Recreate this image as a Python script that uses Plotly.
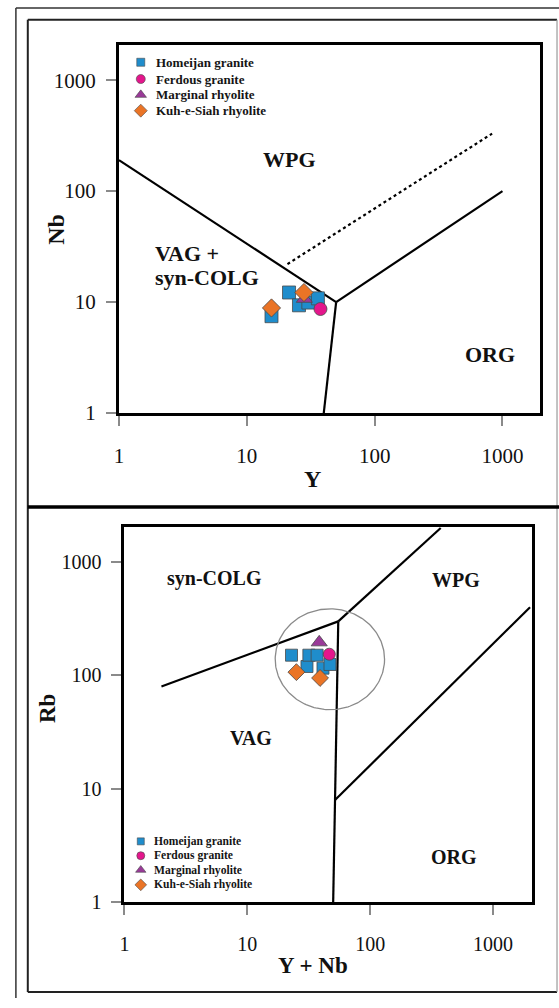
import numpy as np
import plotly.graph_objects as go

# ---------------- data ----------------
# Nb vs Y diagram
homeijan_y = [21.4, 25.6, 30.3, 36.0, 15.6]
homeijan_nb = [12.2, 9.35, 9.9, 10.8, 7.46]
ferdous_y = [37.7]
ferdous_nb = [8.66]
marginal_y = [28.2]
marginal_nb = [10.7]
kuh_y = [28.0, 15.6]
kuh_nb = [12.2, 8.85]

# Rb vs (Y + Nb) diagram
homeijan_ynb = [22.9, 30.6, 31.7, 37.0, 41.3, 47.1]
homeijan_rb = [151, 120, 151, 151, 116, 125]
ferdous_ynb = [46.5]
ferdous_rb = [154]
marginal_ynb = [38.5]
marginal_rb = [196]
kuh_ynb = [25.1, 39.1]
kuh_rb = [107, 95]

# field boundaries, Nb-Y
b1_vag_wpg_x, b1_vag_wpg_y = [1, 50], [190, 10]
b1_vag_org_x, b1_vag_org_y = [50, 40], [10, 1]
b1_wpg_org_x, b1_wpg_org_y = [50, 1000], [10, 100]
b1_dotted_x, b1_dotted_y = [20.8, 830], [22, 330]

# field boundaries, Rb-(Y+Nb)
b2_syn_vag_x, b2_syn_vag_y = [2, 55], [80, 300]
b2_syn_wpg_x, b2_syn_wpg_y = [55, 375], [300, 2000]
b2_vag_org_x, b2_vag_org_y = [55, 50], [300, 1]
b2_wpg_org_x, b2_wpg_org_y = [52, 2000], [8, 400]

# highlight ellipse (log-space centre and radius, in decades)
ring_center = (47.0, 139.0)
ring_radius = 0.445

series = ["Homeijan granite", "Ferdous granite", "Marginal rhyolite", "Kuh-e-Siah rhyolite"]
colors = ["#1f8dcc", "#e4168c", "#9a3a98", "#ea7426"]
symbols = ["square", "circle", "triangle-up", "diamond"]
tick_vals = [1, 10, 100, 1000]
tick_text = ["1", "10", "100", "1000"]

# ---------------- layout helpers ----------------
W, H = 559, 1008
SERIF = "Liberation Serif, Times New Roman, serif"


def fx(x):
    return x / W


def fy(y):
    return 1 - y / H


fig = go.Figure()

marker_line = dict(color="#4a4a4a", width=0.8)
top_sets = [(homeijan_y, homeijan_nb), (ferdous_y, ferdous_nb),
            (marginal_y, marginal_nb), (kuh_y, kuh_nb)]
bot_sets = [(homeijan_ynb, homeijan_rb), (ferdous_ynb, ferdous_rb),
            (marginal_ynb, marginal_rb), (kuh_ynb, kuh_rb)]
top_sizes = [13, 13, 14, 14]
bot_sizes = [12, 12, 14, 13]


def boundary(x, y, xa, ya, dash=None):
    st = dict(color="black", width=2.2)
    if dash:
        st["dash"] = dash
    fig.add_trace(go.Scatter(x=x, y=y, mode="lines", line=st, xaxis=xa, yaxis=ya,
                             showlegend=False, hoverinfo="skip"))


# top diagram boundaries
boundary(b1_vag_wpg_x, b1_vag_wpg_y, "x", "y")
boundary(b1_vag_org_x, b1_vag_org_y, "x", "y")
boundary(b1_wpg_org_x, b1_wpg_org_y, "x", "y")
boundary(b1_dotted_x, b1_dotted_y, "x", "y", dash="dot")

# bottom diagram boundaries
boundary(b2_syn_vag_x, b2_syn_vag_y, "x2", "y2")
boundary(b2_syn_wpg_x, b2_syn_wpg_y, "x2", "y2")
boundary(b2_vag_org_x, b2_vag_org_y, "x2", "y2")
boundary(b2_wpg_org_x, b2_wpg_org_y, "x2", "y2")

# highlight ring around the samples
t = np.linspace(0, 2 * np.pi, 200)
ring_x = 10 ** (np.log10(ring_center[0]) + ring_radius * np.cos(t))
ring_y = 10 ** (np.log10(ring_center[1]) + ring_radius * np.sin(t))
fig.add_trace(go.Scatter(x=ring_x, y=ring_y, mode="lines",
                         line=dict(color="#8a8a8a", width=1.3),
                         xaxis="x2", yaxis="y2", showlegend=False, hoverinfo="skip"))

# sample points
for (xs, ys), name, c, s, sz in zip(top_sets, series, colors, symbols, top_sizes):
    fig.add_trace(go.Scatter(x=xs, y=ys, mode="markers", name=name,
                             marker=dict(symbol=s, color=c, size=sz, line=marker_line),
                             xaxis="x", yaxis="y", showlegend=False))
for (xs, ys), name, c, s, sz in zip(bot_sets, series, colors, symbols, bot_sizes):
    fig.add_trace(go.Scatter(x=xs, y=ys, mode="markers", name=name,
                             marker=dict(symbol=s, color=c, size=sz, line=marker_line),
                             xaxis="x2", yaxis="y2", showlegend=False))

# hand-built legends drawn on a full-page pixel overlay axis
legend_blocks = [
    dict(x=137, text_x=150, rows=[63, 80, 96, 112], msize=[8, 9, 10, 10], font=13),
    dict(x=137, text_x=148, rows=[851.5, 866, 880.5, 895.5], msize=[7, 8, 9, 9], font=11.6),
]
annotations = []
for blk in legend_blocks:
    for i, name in enumerate(series):
        fig.add_trace(go.Scatter(x=[blk["x"]], y=[blk["rows"][i]], mode="markers",
                                 marker=dict(symbol=symbols[i], color=colors[i],
                                             size=blk["msize"][i],
                                             line=dict(color="#4a4a4a", width=0.6)),
                                 xaxis="x3", yaxis="y3", showlegend=False, hoverinfo="skip"))
        annotations.append(dict(x=fx(blk["text_x"]), y=fy(blk["rows"][i]), xref="paper", yref="paper",
                                text=f"<b>{name}</b>", showarrow=False, xanchor="left", yanchor="middle",
                                font=dict(family=SERIF, size=blk["font"], color="#151515")))

# field names
field_labels = [
    ("WPG", 287, 161, 22, "center"),
    ("VAG +", 149, 257, 22, "left"),
    ("syn-COLG", 149, 281, 22, "left"),
    ("ORG", 489, 359, 22, "center"),
    ("syn-COLG", 211, 585, 20, "center"),
    ("WPG", 455, 587, 20, "center"),
    ("VAG", 248, 747, 20, "center"),
    ("ORG", 453, 867, 20, "center"),
]
for txt, x, y, sz, anc in field_labels:
    annotations.append(dict(x=fx(x), y=fy(y), xref="paper", yref="paper", text=f"<b>{txt}</b>",
                            showarrow=False, xanchor=anc, yanchor="middle",
                            font=dict(family=SERIF, size=sz, color="#111")))

# axis titles
axis_titles = [
    ("Y", 310, 485, 24, 0),
    ("Nb", 52, 232, 24, -90),
    ("Y + Nb", 311, 977, 23, 0),
    ("Rb", 43, 717, 23, -90),
]
for txt, x, y, sz, ang in axis_titles:
    annotations.append(dict(x=fx(x), y=fy(y), xref="paper", yref="paper", text=f"<b>{txt}</b>",
                            showarrow=False, xanchor="center", yanchor="middle", textangle=ang,
                            font=dict(family=SERIF, size=sz, color="#111")))


def pline(x0, y0, x1, y1, color, width):
    return dict(type="line", xref="paper", yref="paper", x0=fx(x0), x1=fx(x1),
                y0=fy(y0), y1=fy(y1), line=dict(color=color, width=width))


# page frames
shapes = [
    # outer thin border
    pline(11, 8, 11, 1010, "#333", 1.5),
    pline(11, 8, 560, 8, "#333", 1.5),
    # panel border
    pline(23, 20, 23, 1004, "#222", 2),
    pline(23, 20, 557, 20, "#222", 2),
    pline(23, 1004, 557, 1004, "#222", 2),
    pline(557, 20, 557, 1004, "#9a9a9a", 1.2),
    # separator between the two diagrams
    pline(23, 513, 559, 513, "black", 3.5),
]


def log_axis(domain, rng, size, standoff, anchor):
    return dict(type="log", domain=domain, range=rng, anchor=anchor,
                tickvals=tick_vals, ticktext=tick_text, ticks="outside", ticklen=10,
                tickcolor="#8a8a8a", tickwidth=1.5, showgrid=False, zeroline=False,
                showline=True, linecolor="black", linewidth=3, mirror=True,
                ticklabelstandoff=standoff,
                tickfont=dict(family=SERIF, size=size, color="#111"))


fig.update_layout(
    width=W, height=H, margin=dict(l=0, r=0, t=0, b=0),
    paper_bgcolor="white", plot_bgcolor="rgba(0,0,0,0)",
    showlegend=False,
    xaxis=log_axis([fx(115), fx(540)], [0, 3.295], 21, 12, "y"),
    yaxis=log_axis([fy(418), fy(46)], [0, 3.313], 21, 6, "x"),
    xaxis2=log_axis([fx(120.5), fx(531.5)], [0, 3.315], 20, 12, "y2"),
    yaxis2=log_axis([fy(913), fy(533)], [0, 3.313], 20, 6, "x2"),
    xaxis3=dict(domain=[0, 1], range=[0, W], visible=False, anchor="y3", fixedrange=True),
    yaxis3=dict(domain=[0, 1], range=[H, 0], visible=False, anchor="x3", fixedrange=True),
    annotations=annotations,
    shapes=shapes,
)

fig.write_html("out.html")
